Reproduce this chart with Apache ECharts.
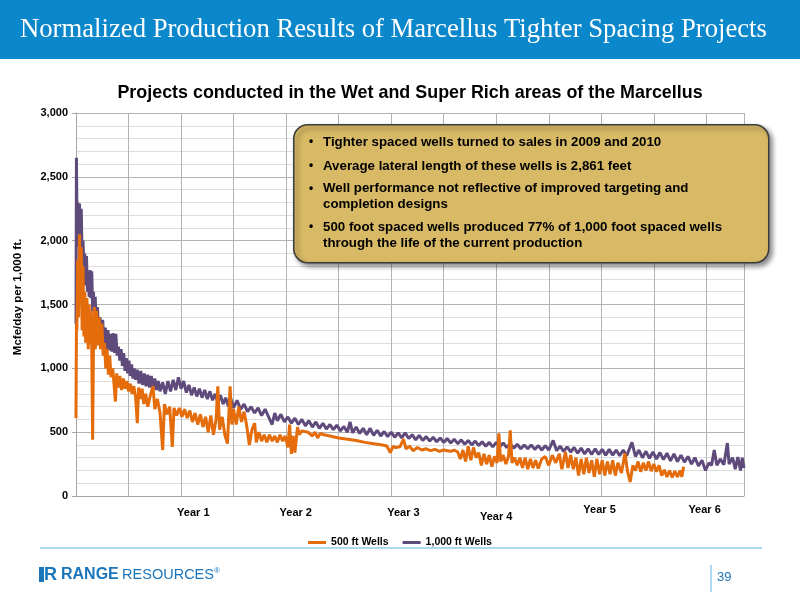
<!DOCTYPE html>
<html>
<head>
<meta charset="utf-8">
<script src="https://cdn.jsdelivr.net/npm/echarts@6/dist/echarts.min.js"></script>
<style>
    html, body { margin: 0; padding: 0; background: #ffffff; }
    #chart { width: 800px; height: 600px; }
</style>
</head>
<body>
<div id="chart"></div>
<script>
// 数据部分：x 为生产月数，y 为 Mcfe/day per 1,000 ft.
var yearLabels = ['Year 1', 'Year 2', 'Year 3', 'Year 4', 'Year 5', 'Year 6'];
// 年份标签所在的月份位置（原图的标签是手动摆放的）
var yearLabelAt = [13.4, 25.1, 37.4, 48.0, 59.8, 71.8];

// 1,000 ft Wells
var wells1000 = [
    [0, 1350], [0.05, 2650], [0.12, 2100], [0.2, 2300], [0.3, 1950], [0.4, 2290], [0.5, 1900], [0.6, 2250],
    [0.7, 1850], [0.8, 2000], [0.9, 1800], [1.0, 1900], [1.1, 1650], [1.2, 1880], [1.3, 1600], [1.4, 1750],
    [1.5, 1560], [1.6, 1770], [1.7, 1550], [1.8, 1760], [1.9, 1450], [2.0, 1600], [2.1, 1350], [2.2, 1560],
    [2.3, 1300], [2.45, 1480], [2.6, 1250], [2.75, 1400], [2.9, 1200], [3.05, 1380], [3.2, 1180], [3.35, 1320],
    [3.5, 1150], [3.65, 1300], [3.8, 1140], [3.95, 1270], [4.1, 1130], [4.25, 1275], [4.4, 1120], [4.55, 1270],
    [4.7, 1100], [4.85, 1170], [5.0, 1060], [5.15, 1150], [5.3, 1020], [5.45, 1120], [5.6, 980], [5.75, 1080],
    [5.9, 960], [6.05, 1060], [6.2, 940], [6.35, 1030], [6.5, 920], [6.65, 1000], [6.8, 910], [7.0, 990],
    [7.2, 880], [7.4, 980], [7.6, 870], [7.8, 960], [8.0, 860], [8.2, 950], [8.4, 850], [8.6, 940],
    [8.8, 840], [9.0, 920], [9.2, 830], [9.4, 900], [9.6, 820], [9.9, 890], [10.2, 800], [10.5, 900],
    [10.8, 820], [11.1, 910], [11.4, 830], [11.7, 930], [12.0, 840], [12.3, 900], [12.6, 810], [12.9, 870],
    [13.2, 790], [13.5, 850], [13.8, 780], [14.1, 840], [14.4, 770], [14.7, 830], [15.0, 760], [15.3, 820],
    [15.6, 750], [15.9, 800], [16.2, 730], [16.5, 790], [16.8, 720], [17.1, 770], [17.4, 700], [17.7, 760],
    [18.0, 690], [18.4, 750], [18.8, 680], [19.2, 720], [19.6, 660], [20.0, 700], [20.4, 650], [20.8, 690],
    [21.2, 630], [21.6, 680], [22.0, 620], [22.4, 560], [22.7, 650], [23.0, 590], [23.4, 640], [23.8, 580],
    [24.2, 620], [24.6, 570], [25.0, 610], [25.4, 560], [25.8, 600], [26.2, 550], [26.6, 590], [27.0, 540],
    [27.4, 580], [27.8, 530], [28.2, 570], [28.6, 525], [29.0, 560], [29.4, 520], [29.8, 555], [30.2, 510],
    [30.6, 545], [31.0, 500], [31.3, 580], [31.6, 495], [32.0, 540], [32.4, 490], [32.8, 530], [33.2, 480],
    [33.6, 530], [34.0, 475], [34.4, 515], [34.8, 470], [35.2, 505], [35.6, 465], [36.0, 500], [36.4, 460],
    [36.8, 495], [37.2, 455], [37.6, 495], [38.0, 450], [38.4, 480], [38.8, 440], [39.2, 475], [39.6, 435],
    [40.0, 465], [40.4, 430], [40.8, 460], [41.2, 425], [41.6, 455], [42.0, 420], [42.4, 450], [42.8, 415],
    [43.2, 445], [43.6, 410], [44.0, 440], [44.4, 405], [44.8, 435], [45.2, 400], [45.6, 430], [46.0, 395],
    [46.4, 425], [46.8, 390], [47.2, 420], [47.6, 385], [48.0, 420], [48.4, 385], [48.8, 415], [49.2, 380],
    [49.6, 410], [50.0, 375], [50.4, 405], [50.8, 370], [51.2, 400], [51.6, 370], [52.0, 400], [52.4, 365],
    [52.8, 395], [53.2, 360], [53.6, 395], [54.0, 360], [54.5, 435], [54.9, 355], [55.3, 390], [55.7, 350],
    [56.1, 385], [56.5, 345], [56.9, 380], [57.3, 335], [57.7, 375], [58.1, 330], [58.5, 370], [58.9, 325],
    [59.3, 370], [59.7, 325], [60.1, 365], [60.5, 320], [60.9, 365], [61.3, 320], [61.7, 360], [62.1, 315],
    [62.5, 360], [62.9, 315], [63.5, 420], [63.9, 310], [64.3, 360], [64.7, 300], [65.1, 350], [65.5, 295],
    [65.9, 345], [66.3, 290], [66.7, 340], [67.1, 285], [67.5, 335], [67.9, 275], [68.3, 330], [68.7, 270],
    [69.1, 320], [69.5, 265], [69.9, 310], [70.3, 250], [70.7, 300], [71.1, 235], [71.5, 280], [71.9, 200],
    [72.3, 260], [72.6, 240], [72.9, 360], [73.2, 240], [73.6, 290], [74.0, 245], [74.4, 415], [74.6, 250],
    [75.0, 300], [75.3, 210], [75.6, 305], [75.9, 200], [76.1, 300], [76.3, 220]
];

// 500 ft Wells
var wells500 = [
    [0, 610], [0.05, 1350], [0.1, 1300], [0.2, 1850], [0.3, 1400], [0.4, 2050], [0.5, 1500], [0.6, 1950],
    [0.7, 1300], [0.8, 1800], [0.9, 1250], [1.0, 1600], [1.1, 1200], [1.25, 1550], [1.4, 1150], [1.5, 1500],
    [1.6, 1200], [1.7, 1450], [1.8, 1150], [1.9, 440], [2.0, 1200], [2.1, 1480], [2.2, 1150], [2.35, 1450],
    [2.5, 1180], [2.65, 1400], [2.8, 1150], [2.95, 1350], [3.1, 1100], [3.25, 1200], [3.4, 1000], [3.55, 1150],
    [3.7, 950], [3.85, 1100], [4.0, 930], [4.2, 1000], [4.5, 740], [4.65, 960], [4.8, 850], [5.0, 940],
    [5.2, 830], [5.4, 920], [5.6, 840], [5.8, 900], [6.0, 820], [6.2, 880], [6.4, 800], [6.6, 860],
    [6.8, 780], [7.0, 570], [7.15, 850], [7.35, 760], [7.55, 840], [7.75, 720], [7.95, 800], [8.2, 700],
    [8.5, 790], [8.8, 860], [9.0, 680], [9.3, 760], [9.6, 650], [9.9, 360], [10.1, 720], [10.4, 640],
    [10.7, 700], [11.0, 385], [11.2, 690], [11.5, 630], [11.8, 690], [12.1, 620], [12.4, 680], [12.7, 610],
    [13.0, 670], [13.3, 580], [13.6, 650], [13.9, 560], [14.2, 640], [14.5, 540], [14.8, 620], [15.1, 500],
    [15.4, 630], [15.7, 480], [16.0, 600], [16.2, 860], [16.4, 520], [16.7, 620], [17.0, 480], [17.3, 410],
    [17.6, 860], [17.8, 560], [18.0, 680], [18.3, 560], [18.6, 700], [18.9, 580], [19.2, 660], [19.5, 550],
    [19.8, 400], [20.1, 520], [20.4, 570], [20.6, 420], [20.9, 500], [21.2, 430], [21.5, 480], [21.8, 420],
    [22.1, 480], [22.4, 430], [22.7, 470], [23.0, 420], [23.3, 480], [23.6, 430], [23.9, 470], [24.2, 380],
    [24.4, 560], [24.6, 330], [24.8, 470], [25.0, 340], [25.3, 540], [25.5, 480], [25.8, 510], [26.5, 500],
    [27.0, 470], [27.3, 500], [27.6, 455], [27.9, 490], [28.3, 480], [29.0, 470], [30.0, 455], [31.0, 445],
    [32.0, 435], [33.0, 420], [34.0, 410], [35.0, 400], [35.5, 392], [35.9, 340], [36.2, 388], [36.5, 380],
    [37.0, 385], [37.4, 445], [37.7, 370], [38.1, 390], [38.5, 355], [39.0, 380], [39.5, 360], [40.0, 370],
    [40.5, 355], [41.0, 365], [41.5, 350], [42.0, 360], [42.4, 355], [42.8, 350], [43.2, 360], [43.6, 345],
    [43.9, 290], [44.2, 360], [44.5, 270], [44.8, 390], [45.1, 280], [45.4, 380], [45.7, 300], [46.0, 340],
    [46.3, 240], [46.6, 330], [46.9, 250], [47.2, 320], [47.5, 230], [47.8, 310], [48.1, 260], [48.3, 490],
    [48.5, 270], [48.8, 320], [49.1, 250], [49.4, 310], [49.6, 515], [49.8, 260], [50.1, 300], [50.4, 240],
    [50.7, 300], [51.0, 220], [51.3, 300], [51.6, 210], [51.9, 290], [52.2, 220], [52.5, 280], [52.8, 215],
    [53.2, 290], [53.6, 310], [54.0, 240], [54.4, 320], [54.8, 260], [55.2, 330], [55.5, 210], [55.9, 345],
    [56.2, 220], [56.5, 320], [56.8, 210], [57.1, 300], [57.4, 160], [57.7, 290], [58.0, 170], [58.3, 300],
    [58.6, 180], [58.9, 280], [59.2, 150], [59.5, 290], [59.8, 170], [60.1, 280], [60.4, 160], [60.7, 270],
    [61.0, 170], [61.3, 280], [61.6, 160], [61.9, 260], [62.3, 180], [62.7, 335], [63.0, 190], [63.3, 110],
    [63.6, 240], [63.9, 200], [64.2, 270], [64.5, 190], [64.8, 260], [65.1, 200], [65.4, 270], [65.7, 195],
    [66.0, 250], [66.3, 190], [66.6, 240], [66.9, 160], [67.2, 205], [67.5, 150], [67.8, 200], [68.1, 145],
    [68.4, 195], [68.7, 150], [69.0, 200], [69.2, 150], [69.4, 230]
];

var COLOR_500 = '#e46c0a';
var COLOR_1000 = '#5f4a7c';
var BLUE = '#0b87cb';
var LOGO_BLUE = '#1b75bb';
var FONT = '"Liberation Sans", Arial, sans-serif';

var myChart = echarts.init(document.getElementById('chart'));

// 年份标签：按位置找回标签文字，第4年位置偏低，第5、6年偏高
function yearFormatter(value) {
    var idx = 0;
    for (var i = 0; i < yearLabelAt.length; i++) {
        if (Math.abs(yearLabelAt[i] - value) < Math.abs(yearLabelAt[idx] - value)) {
            idx = i;
        }
    }
    var label = yearLabels[idx];
    if (idx == 3) {
        return '{low|' + label + '}';
    }
    if (idx >= 4) {
        return '{high|' + label + '}';
    }
    return '{mid|' + label + '}';
}

var bullets = [
    ['Tighter spaced wells turned to sales in 2009 and 2010'],
    ['Average lateral length of these wells is 2,861 feet'],
    ['Well performance not reflective of improved targeting and', 'completion designs'],
    ['500 foot spaced wells produced 77% of 1,000 foot spaced wells', 'through the life of the current production']
];
var bulletY = [142, 166, 188.5, 227];

function buildGraphic() {
    var els = [];
    // 顶部蓝色标题栏
    els.push({
        type: 'rect', left: 0, top: 0, z: 1,
        shape: {width: 800, height: 59},
        style: {fill: BLUE}
    });
    els.push({
        type: 'text', x: 20, y: 30, z: 2,
        style: {
            text: 'Normalized Production Results of Marcellus Tighter Spacing Projects',
            fill: '#ffffff',
            verticalAlign: 'middle',
            font: '26.7px "Liberation Serif", "Times New Roman", serif'
        }
    });
    // 图表标题
    els.push({
        type: 'text', x: 410, y: 93, z: 2,
        style: {
            text: 'Projects conducted in the Wet and Super Rich areas of the Marcellus',
            fill: '#000000',
            align: 'center',
            verticalAlign: 'middle',
            font: 'bold 17.9px ' + FONT
        }
    });
    // 纵轴名称
    els.push({
        type: 'text', x: 18, y: 297, z: 2,
        rotation: Math.PI / 2,
        style: {
            text: 'Mcfe/day per 1,000 ft.',
            fill: '#000000',
            align: 'center',
            verticalAlign: 'middle',
            font: 'bold 11.5px ' + FONT
        }
    });
    // 说明框
    els.push({
        type: 'rect', left: 293, top: 124, z: 10,
        shape: {width: 475, height: 138, r: 14},
        style: {
            fill: '#d8ba66', stroke: '#3c3c3c', lineWidth: 1.5,
            shadowBlur: 5, shadowOffsetX: 3, shadowOffsetY: 3, shadowColor: 'rgba(0,0,0,0.45)'
        }
    });
    for (var i = 0; i < bullets.length; i++) {
        els.push({
            type: 'text', x: 309, y: bulletY[i], z: 11,
            style: {text: '\u2022', fill: '#000000', verticalAlign: 'middle', font: 'bold 12px ' + FONT}
        });
        for (var j = 0; j < bullets[i].length; j++) {
            els.push({
                type: 'text', x: 323, y: bulletY[i] + j * 16, z: 11,
                style: {text: bullets[i][j], fill: '#000000', verticalAlign: 'middle', font: 'bold 13.3px ' + FONT}
            });
        }
    }
    // 底部分隔线
    els.push({
        type: 'line', z: 2,
        shape: {x1: 40, y1: 548, x2: 762, y2: 548},
        style: {stroke: '#5fb0e4', lineWidth: 1.2}
    });
    els.push({
        type: 'line', z: 2,
        shape: {x1: 711, y1: 565, x2: 711, y2: 592},
        style: {stroke: '#5fb0e4', lineWidth: 1}
    });
    els.push({
        type: 'text', x: 717, y: 577, z: 2,
        style: {text: '39', fill: LOGO_BLUE, verticalAlign: 'middle', font: '13px ' + FONT}
    });
    // Logo
    els.push({
        type: 'rect', left: 39, top: 567, z: 2,
        shape: {width: 5, height: 15},
        style: {fill: LOGO_BLUE}
    });
    els.push({
        type: 'text', x: 44, y: 575, z: 2,
        style: {text: 'R', fill: LOGO_BLUE, verticalAlign: 'middle', font: 'bold 18px ' + FONT}
    });
    els.push({
        type: 'text', x: 61, y: 575, z: 2,
        style: {
            text: '{a|RANGE} {b|RESOURCES}{c|\u00AE}',
            verticalAlign: 'middle',
            rich: {
                a: {fill: LOGO_BLUE, font: 'bold 16px ' + FONT},
                b: {fill: LOGO_BLUE, font: '14.5px ' + FONT},
                c: {fill: LOGO_BLUE, font: '8px ' + FONT, verticalAlign: 'top'}
            }
        }
    });
    return els;
}

var option = {
    backgroundColor: '#ffffff',
    animation: false,
    legend: {
        data: ['500 ft Wells', '1,000 ft Wells'],
        left: 'center',
        top: 532,
        icon: 'rect',
        itemWidth: 18,
        itemHeight: 3,
        itemGap: 14,
        textStyle: {fontFamily: FONT, fontWeight: 'bold', fontSize: 10.5, color: '#000000'}
    },
    grid: {left: 76, right: 56, top: 113, bottom: 104},
    xAxis: {
        type: 'value',
        min: 0,
        max: 76.3,
        interval: 6,
        axisLine: {show: true, onZero: false, lineStyle: {color: '#a6a6a6', width: 1}},
        axisTick: {show: false},
        splitLine: {show: true, lineStyle: {color: '#b3b3b3', width: 1}},
        axisLabel: {
            customValues: yearLabelAt,
            formatter: yearFormatter,
            margin: 8,
            rich: {
                mid: {fontFamily: FONT, fontWeight: 'bold', fontSize: 11, color: '#000000', padding: [3, 0, 0, 0]},
                low: {fontFamily: FONT, fontWeight: 'bold', fontSize: 11, color: '#000000', padding: [7, 0, 0, 0]},
                high: {fontFamily: FONT, fontWeight: 'bold', fontSize: 11, color: '#000000', padding: [0, 0, 0, 0]}
            }
        }
    },
    yAxis: {
        type: 'value',
        min: 0,
        max: 3000,
        interval: 500,
        axisLine: {show: true, lineStyle: {color: '#a6a6a6', width: 1}},
        axisTick: {show: true, length: 4, lineStyle: {color: '#a6a6a6'}},
        axisLabel: {
            margin: 8,
            fontFamily: FONT, fontWeight: 'bold', fontSize: 11, color: '#000000',
            formatter: function (v) {
                return v.toLocaleString('en-US');
            }
        },
        splitLine: {show: true, lineStyle: {color: '#b3b3b3', width: 1}},
        minorTick: {show: false, splitNumber: 5},
        minorSplitLine: {show: true, lineStyle: {color: '#dedede', width: 1}}
    },
    series: [
        {
            name: '1,000 ft Wells',
            type: 'line',
            data: wells1000,
            symbol: 'none',
            z: 3,
            lineStyle: {color: COLOR_1000, width: 3},
            itemStyle: {color: COLOR_1000}
        },
        {
            name: '500 ft Wells',
            type: 'line',
            data: wells500,
            symbol: 'none',
            z: 4,
            lineStyle: {color: COLOR_500, width: 3},
            itemStyle: {color: COLOR_500}
        }
    ],
    graphic: buildGraphic()
};

myChart.setOption(option);
</script>
</body>
</html>
